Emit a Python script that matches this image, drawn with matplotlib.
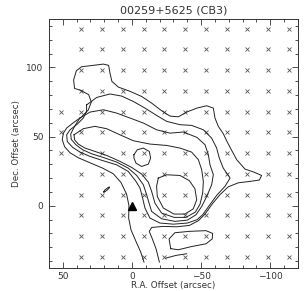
import numpy as np
import matplotlib
matplotlib.use("Agg")
import matplotlib.pyplot as plt
from matplotlib.ticker import MultipleLocator

# observed positions (arcsec offsets)
grid_ra = [36.5, 21.5, 6.5, -8.5, -23.5, -38.5, -53.5, -68.5, -83.5, -98.5, -113.5]
grid_dec = [128, 113, 98, 83, 68, 53, 38, 23, 8, -7, -22, -37]
extra_ra = [51.5, 51.5, 51.5]
extra_dec = [68, 53, 38]

# contour lines (RA offset, Dec offset)
c1_ra = [-8.7, -6.3, -2.9, 0.7, 2.4, 2.2, 3.9, 8.0, 13.5, 21.2, 30.4, 38.8, 44.8, 48.7, 50.4,
         49.6, 47.2, 42.4, 36.4, 31.6, 29.4, 31.3, 36.9, 41.5, 42.2, 40.2, 36.4, 28.0, 20.7,
         16.9, 15.9, 14.5, 9.9, 1.4, -7.0, -14.2, -21.4, -27.5, -33.5, -39.5, -47.0, -54.0,
         -58.8, -60.0, -62.4, -66.0, -68.9, -72.1, -75.7, -81.7, -88.2, -93.7, -92.1, -85.3,
         -76.9, -69.6, -63.6, -58.1, -52.8, -48.0, -41.5, -32.3, -22.7, -14.2, -12.5, -14.5,
         -17.4, -19.8]
c1_dec = [-40.7, -33.5, -25.8, -17.4, -8.9, 0.2, 8.4, 16.9, 23.1, 27.2, 31.1, 34.7, 38.3, 42.7,
          47.7, 52.5, 56.2, 60.0, 64.3, 69.2, 75.0, 80.3, 83.4, 84.8, 90.9, 97.6, 100.5, 101.5,
          102.4, 101.5, 95.9, 89.9, 85.8, 82.7, 79.0, 74.2, 68.7, 64.8, 64.3, 67.7, 70.6, 72.3,
          70.6, 63.4, 57.4, 52.1, 46.0, 40.0, 33.3, 26.5, 24.3, 21.9, 18.6, 17.6, 16.6, 13.7,
          8.0, 1.4, -6.0, -10.8, -14.2, -15.2, -14.9, -15.7, -18.6, -23.4, -31.1, -40.7]

c2_ra = [32.8, 25.5, 15.9, 7.5, -1.0, -9.4, -17.8, -25.1, -34.7, -43.1, -51.6, -57.6, -61.2,
         -63.1, -66.0, -70.9, -67.2, -61.2, -55.9, -51.1, -47.0, -40.0, -29.9, -20.2, -13.0,
         -9.4, -7.7, -5.8, -2.9, 2.7, 11.1, 20.7, 30.4, 37.6, 42.9, 46.8, 47.2, 44.8, 40.0,
         35.2, 32.8, 32.8]
c2_dec = [72.9, 78.3, 80.8, 79.3, 75.4, 70.6, 65.3, 61.0, 58.6, 58.1, 54.9, 48.9, 41.7, 34.5,
          27.2, 20.0, 14.0, 7.5, 0.2, -6.5, -10.1, -12.5, -13.3, -12.5, -8.9, -1.7, 5.5, 12.8,
          17.6, 24.8, 29.6, 32.5, 35.7, 38.8, 42.2, 46.5, 51.3, 54.9, 58.6, 63.4, 68.2, 72.9]

c3_ra = [37.6, 30.4, 20.7, 11.1, 1.4, -8.2, -17.8, -27.5, -37.1, -47.0, -52.8, -55.2, -56.4,
         -58.8, -57.6, -54.0, -50.4, -46.3, -40.0, -31.1, -21.4, -14.2, -12.0, -10.6, -8.2,
         -3.4, 2.7, 11.1, 20.7, 29.2, 35.7, 40.5, 43.9, 44.3, 42.4, 40.0, 37.6]
c3_dec = [63.4, 67.7, 69.4, 67.0, 63.4, 59.8, 54.9, 52.5, 53.3, 49.4, 44.1, 36.9, 29.6, 22.4,
          15.2, 6.7, -0.5, -6.5, -10.4, -11.3, -9.4, -4.1, 3.1, 8.0, 15.2, 21.9, 27.2, 31.6,
          34.9, 37.6, 40.5, 44.1, 48.0, 51.8, 55.7, 59.8, 63.4]

c4_ra = [41.9, 35.2, 26.8, 18.3, 8.7, -1.0, -13.0, -25.1, -34.7, -43.1, -48.0, -50.4, -51.6,
         -51.1, -49.2, -45.8, -39.0, -30.4, -21.4, -16.6, -14.2, -11.8, -7.0, 0.2, 8.7, 18.3,
         26.8, 34.0, 38.8, 41.5, 41.9]
c4_dec = [51.3, 55.7, 57.4, 55.7, 51.3, 47.0, 44.6, 43.6, 41.7, 38.8, 33.3, 26.0, 17.6, 9.2,
          1.2, -4.6, -8.4, -8.4, -5.3, 1.9, 10.4, 17.1, 22.9, 27.7, 32.1, 36.4, 39.3, 41.7,
          44.6, 47.7, 51.3]

c5a_ra = [-19.0, -25.1, -34.7, -41.5, -45.5, -46.8, -44.3, -38.3, -30.4, -22.7, -18.3, -17.8, -19.0]
c5a_dec = [20.0, 22.4, 21.9, 18.1, 12.3, 4.3, -2.2, -6.0, -6.0, -1.7, 6.7, 14.0, 20.0]

c5b_ra = [-1.4, -3.9, -8.2, -12.5, -13.5, -11.8, -7.0, -2.9, -1.4, -1.4]
c5b_dec = [36.9, 40.5, 41.7, 39.3, 34.5, 30.1, 28.4, 30.8, 34.5, 36.9]

se_ra = [-28.0, -26.8, -31.0, -41.5, -53.5, -58.3, -58.0, -53.5, -43.0, -33.5, -28.0]
se_dec = [-31.0, -24.0, -19.5, -18.5, -18.0, -20.0, -24.0, -27.5, -29.5, -31.8, -31.0]

bot_ra = [-24.6, -31.8, -39.5]
bot_dec = [-37.8, -35.9, -34.7]

blob_ra = [20.5, 19.5, 17.5, 16.3, 16.5, 18.0, 20.0, 20.5]
blob_dec = [10.0, 11.5, 13.0, 13.6, 12.8, 11.3, 9.8, 10.0]

src_ra = [0.0]
src_dec = [0.0]

fig = plt.figure(figsize=(3.08, 2.91), dpi=100)
ax = fig.add_axes([0.159, 0.079, 0.8085, 0.8557])

gx, gy = np.meshgrid(grid_ra, grid_dec)
ax.plot(gx.ravel(), gy.ravel(), 'x', color='#555555', ms=2.4, mew=0.6)
ax.plot(extra_ra, extra_dec, 'x', color='#555555', ms=2.4, mew=0.6)

for xs, ys in [(c1_ra, c1_dec), (c2_ra, c2_dec), (c3_ra, c3_dec), (c4_ra, c4_dec),
               (c5a_ra, c5a_dec), (c5b_ra, c5b_dec), (se_ra, se_dec), (bot_ra, bot_dec),
               (blob_ra, blob_dec)]:
    ax.plot(xs, ys, '-', color='#222222', lw=0.7)

ax.plot(src_ra, src_dec, '^', color='black', ms=5.5)

ax.set_xlim(60, -120)
ax.set_ylim(-45, 135)
ax.xaxis.set_major_locator(MultipleLocator(50))
ax.xaxis.set_minor_locator(MultipleLocator(10))
ax.yaxis.set_major_locator(MultipleLocator(50))
ax.yaxis.set_minor_locator(MultipleLocator(10))
ax.tick_params(which='both', direction='in', top=True, right=True, colors='#333333',
               labelsize=6.5, width=0.6)
ax.tick_params(which='major', length=4.5)
ax.tick_params(which='minor', length=2.2)
ax.tick_params(axis='x', which='major', pad=3)
ax.tick_params(axis='y', which='major', pad=4)
ax.xaxis.set_major_formatter(plt.FuncFormatter(lambda v, p: f"{int(v)}".replace('-', '\u2212')))
for s in ax.spines.values():
    s.set_linewidth(0.7)
    s.set_color('#333333')

ax.set_xlabel('R.A. Offset (arcsec)', fontsize=6.3, color='#333333', labelpad=0)
ax.set_ylabel('Dec. Offset (arcsec)', fontsize=6.3, color='#333333', labelpad=4)
ax.set_title('00259+5625 (CB3)', fontsize=8, color='#333333', pad=4)

fig.savefig('out.png', dpi=100)
